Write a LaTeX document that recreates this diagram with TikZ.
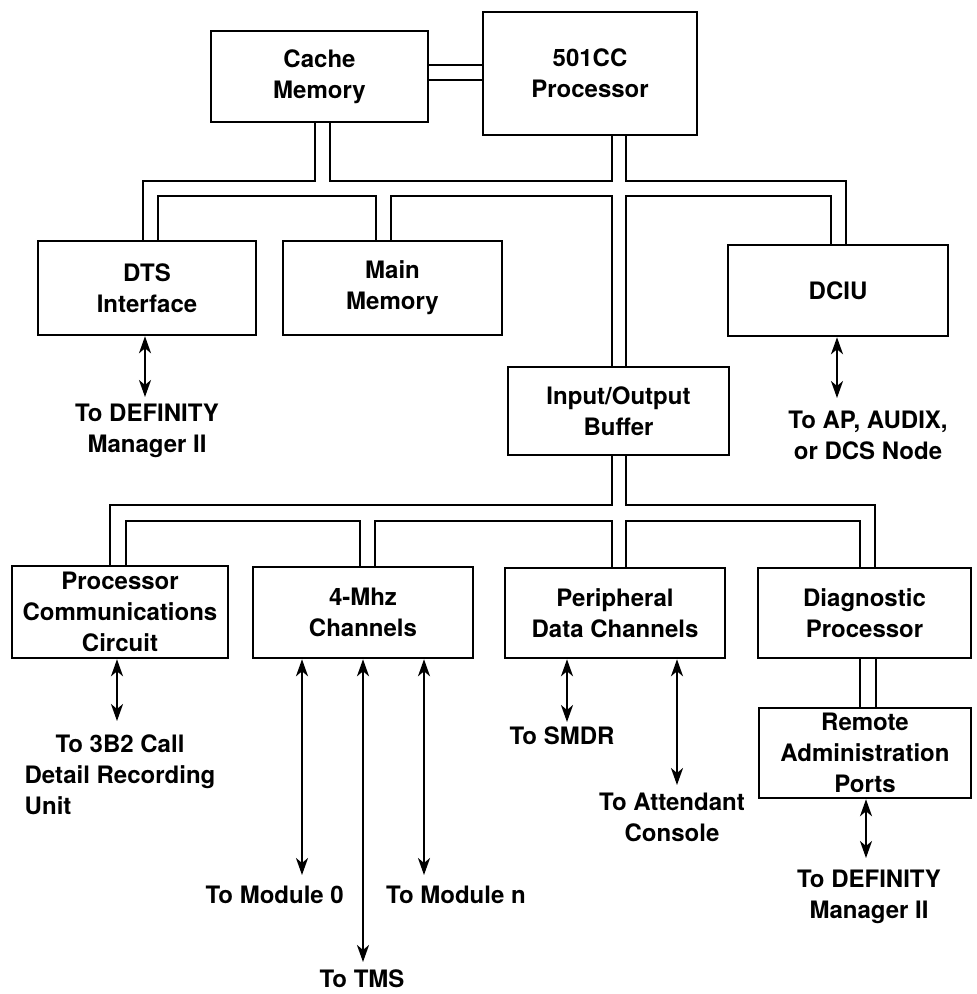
\documentclass[tikz,border=0pt]{standalone}
\usepackage{fontspec}
\setmainfont{TeX Gyre Heros}
\usetikzlibrary{arrows.meta}
\newlength{\lblw}
\begin{document}
\begin{tikzpicture}[x=1pt,y=-1pt,
  every node/.style={font=\fontsize{24}{31}\selectfont\bfseries},
  box/.style={draw,line width=2.5pt,align=center,inner sep=0pt},
  pipe/.style={line width=2.3pt,line cap=rect,line join=miter},
  lbl/.style={align=center,inner sep=0pt,anchor=north},
  tip/.style={Stealth[length=17pt,width=12pt,inset=5pt]},
  link/.style={line width=2.2pt,{Stealth[length=17pt,width=12pt,inset=5pt]}-{Stealth[length=17pt,width=12pt,inset=5pt]}}]
\useasboundingbox[fill=white] (0,0) rectangle (977,994);

% processor complex
\node[box,minimum width=217pt,minimum height=91pt] (cache) at (319.5,76.5) {Cache\\Memory};
\node[box,minimum width=214pt,minimum height=123pt] (proc) at (590,73.5) {501CC\\Processor};
\node[box,minimum width=218pt,minimum height=94pt] (dts) at (147,288) {DTS\\Interface};
\node[box,minimum width=219pt,minimum height=94pt] (mem) at (392.5,288) {Main\\Memory};
\node[box,minimum width=220pt,minimum height=91pt] (dciu) at (838,290.5) {DCIU};
\node[box,minimum width=221pt,minimum height=88pt] (io) at (618.5,411) {Input/Output\\Buffer};

% peripheral circuits
\node[box,minimum width=216pt,minimum height=92pt] (pcc) at (120,612) {Processor\\Communications\\Circuit};
\node[box,minimum width=220pt,minimum height=91pt] (mhz) at (363,612.5) {4-Mhz\\Channels};
\node[box,minimum width=220pt,minimum height=90pt] (pdc) at (615,613) {Peripheral\\Data Channels};
\node[box,minimum width=213pt,minimum height=90pt] (diag) at (864.5,613) {Diagnostic\\Processor};
\node[box,minimum width=212pt,minimum height=90pt] (remote) at (865,753) {Remote\\Administration\\Ports};

% cache to processor
\draw[pipe] (cache.east |- 0,65) -- (proc.west |- 0,65);
\draw[pipe] (cache.east |- 0,80) -- (proc.west |- 0,80);

% upper bus
\draw[pipe] (cache.south -| 315,0) -- (315,181) -- (143,181) -- (dts.north -| 143,0);
\draw[pipe] (cache.south -| 330,0) -- (330,181) -- (612,181) -- (proc.south -| 612,0);
\draw[pipe] (proc.south -| 626,0) -- (626,181) -- (846,181) -- (dciu.north -| 846,0);
\draw[pipe] (dts.north -| 158,0) -- (158,196) -- (376,196) -- (mem.north -| 376,0);
\draw[pipe] (mem.north -| 391,0) -- (391,196) -- (612,196) -- (io.north -| 612,0);
\draw[pipe] (io.north -| 626,0) -- (626,196) -- (831,196) -- (dciu.north -| 831,0);

% lower bus
\draw[pipe] (pcc.north -| 110,0) -- (110,505) -- (612,505) -- (io.south -| 612,0);
\draw[pipe] (io.south -| 626,0) -- (626,505) -- (875,505) -- (diag.north -| 875,0);
\draw[pipe] (pcc.north -| 126,0) -- (126,521) -- (360,521) -- (mhz.north -| 360,0);
\draw[pipe] (mhz.north -| 375,0) -- (375,521) -- (612,521) -- (pdc.north -| 612,0);
\draw[pipe] (pdc.north -| 626,0) -- (626,521) -- (860,521) -- (diag.north -| 860,0);
\draw[pipe] (diag.south -| 860,0) -- (remote.north -| 860,0);
\draw[pipe] (diag.south -| 876,0) -- (remote.north -| 876,0);

% external destinations
\node[lbl] (tdm1) at (147,404) {To DEFINITY\\Manager II};
\node[lbl] (tap) at (868,411) {To AP, AUDIX,\\or DCS Node};
\node[lbl] (t3b2) at (120,735) {To 3B2 Call\\Detail Recording\\\settowidth{\lblw}{Detail Recording}\makebox[\lblw][l]{Unit}};
\node[lbl] (tsmdr) at (562,727) {To SMDR};
\node[lbl] (tatt) at (672,793) {To Attendant\\Console};
\node[lbl] (tdm2) at (869,870) {To DEFINITY\\Manager II};
\node[lbl,anchor=north east] (tm0) at (344,886) {To Module 0};
\node[lbl,anchor=north west] (tmn) at (386,886) {To Module n};
\node[lbl] (ttms) at (362,970) {To TMS};

\coordinate (e1) at (145,397);
\coordinate (e2) at (837,398);
\coordinate (e3) at (117,721);
\coordinate (e4) at (567,722);
\coordinate (e5) at (677,785);
\coordinate (e6) at (866,858);
\coordinate (e7) at (302,875);
\coordinate (e8) at (424,875);
\coordinate (e9) at (363,962);

\draw[link] (dts.south -| e1) -- (e1);
\draw[link] (dciu.south -| e2) -- (e2);
\draw[link] (pcc.south -| e3) -- (e3);
\draw[link] (pdc.south -| e4) -- (e4);
\draw[link] (pdc.south -| e5) -- (e5);
\draw[link] (remote.south -| e6) -- (e6);
\draw[link] (mhz.south -| e7) -- (e7);
\draw[link] (mhz.south -| e8) -- (e8);
\draw[link] (mhz.south -| e9) -- (e9);
\end{tikzpicture}
\end{document}
